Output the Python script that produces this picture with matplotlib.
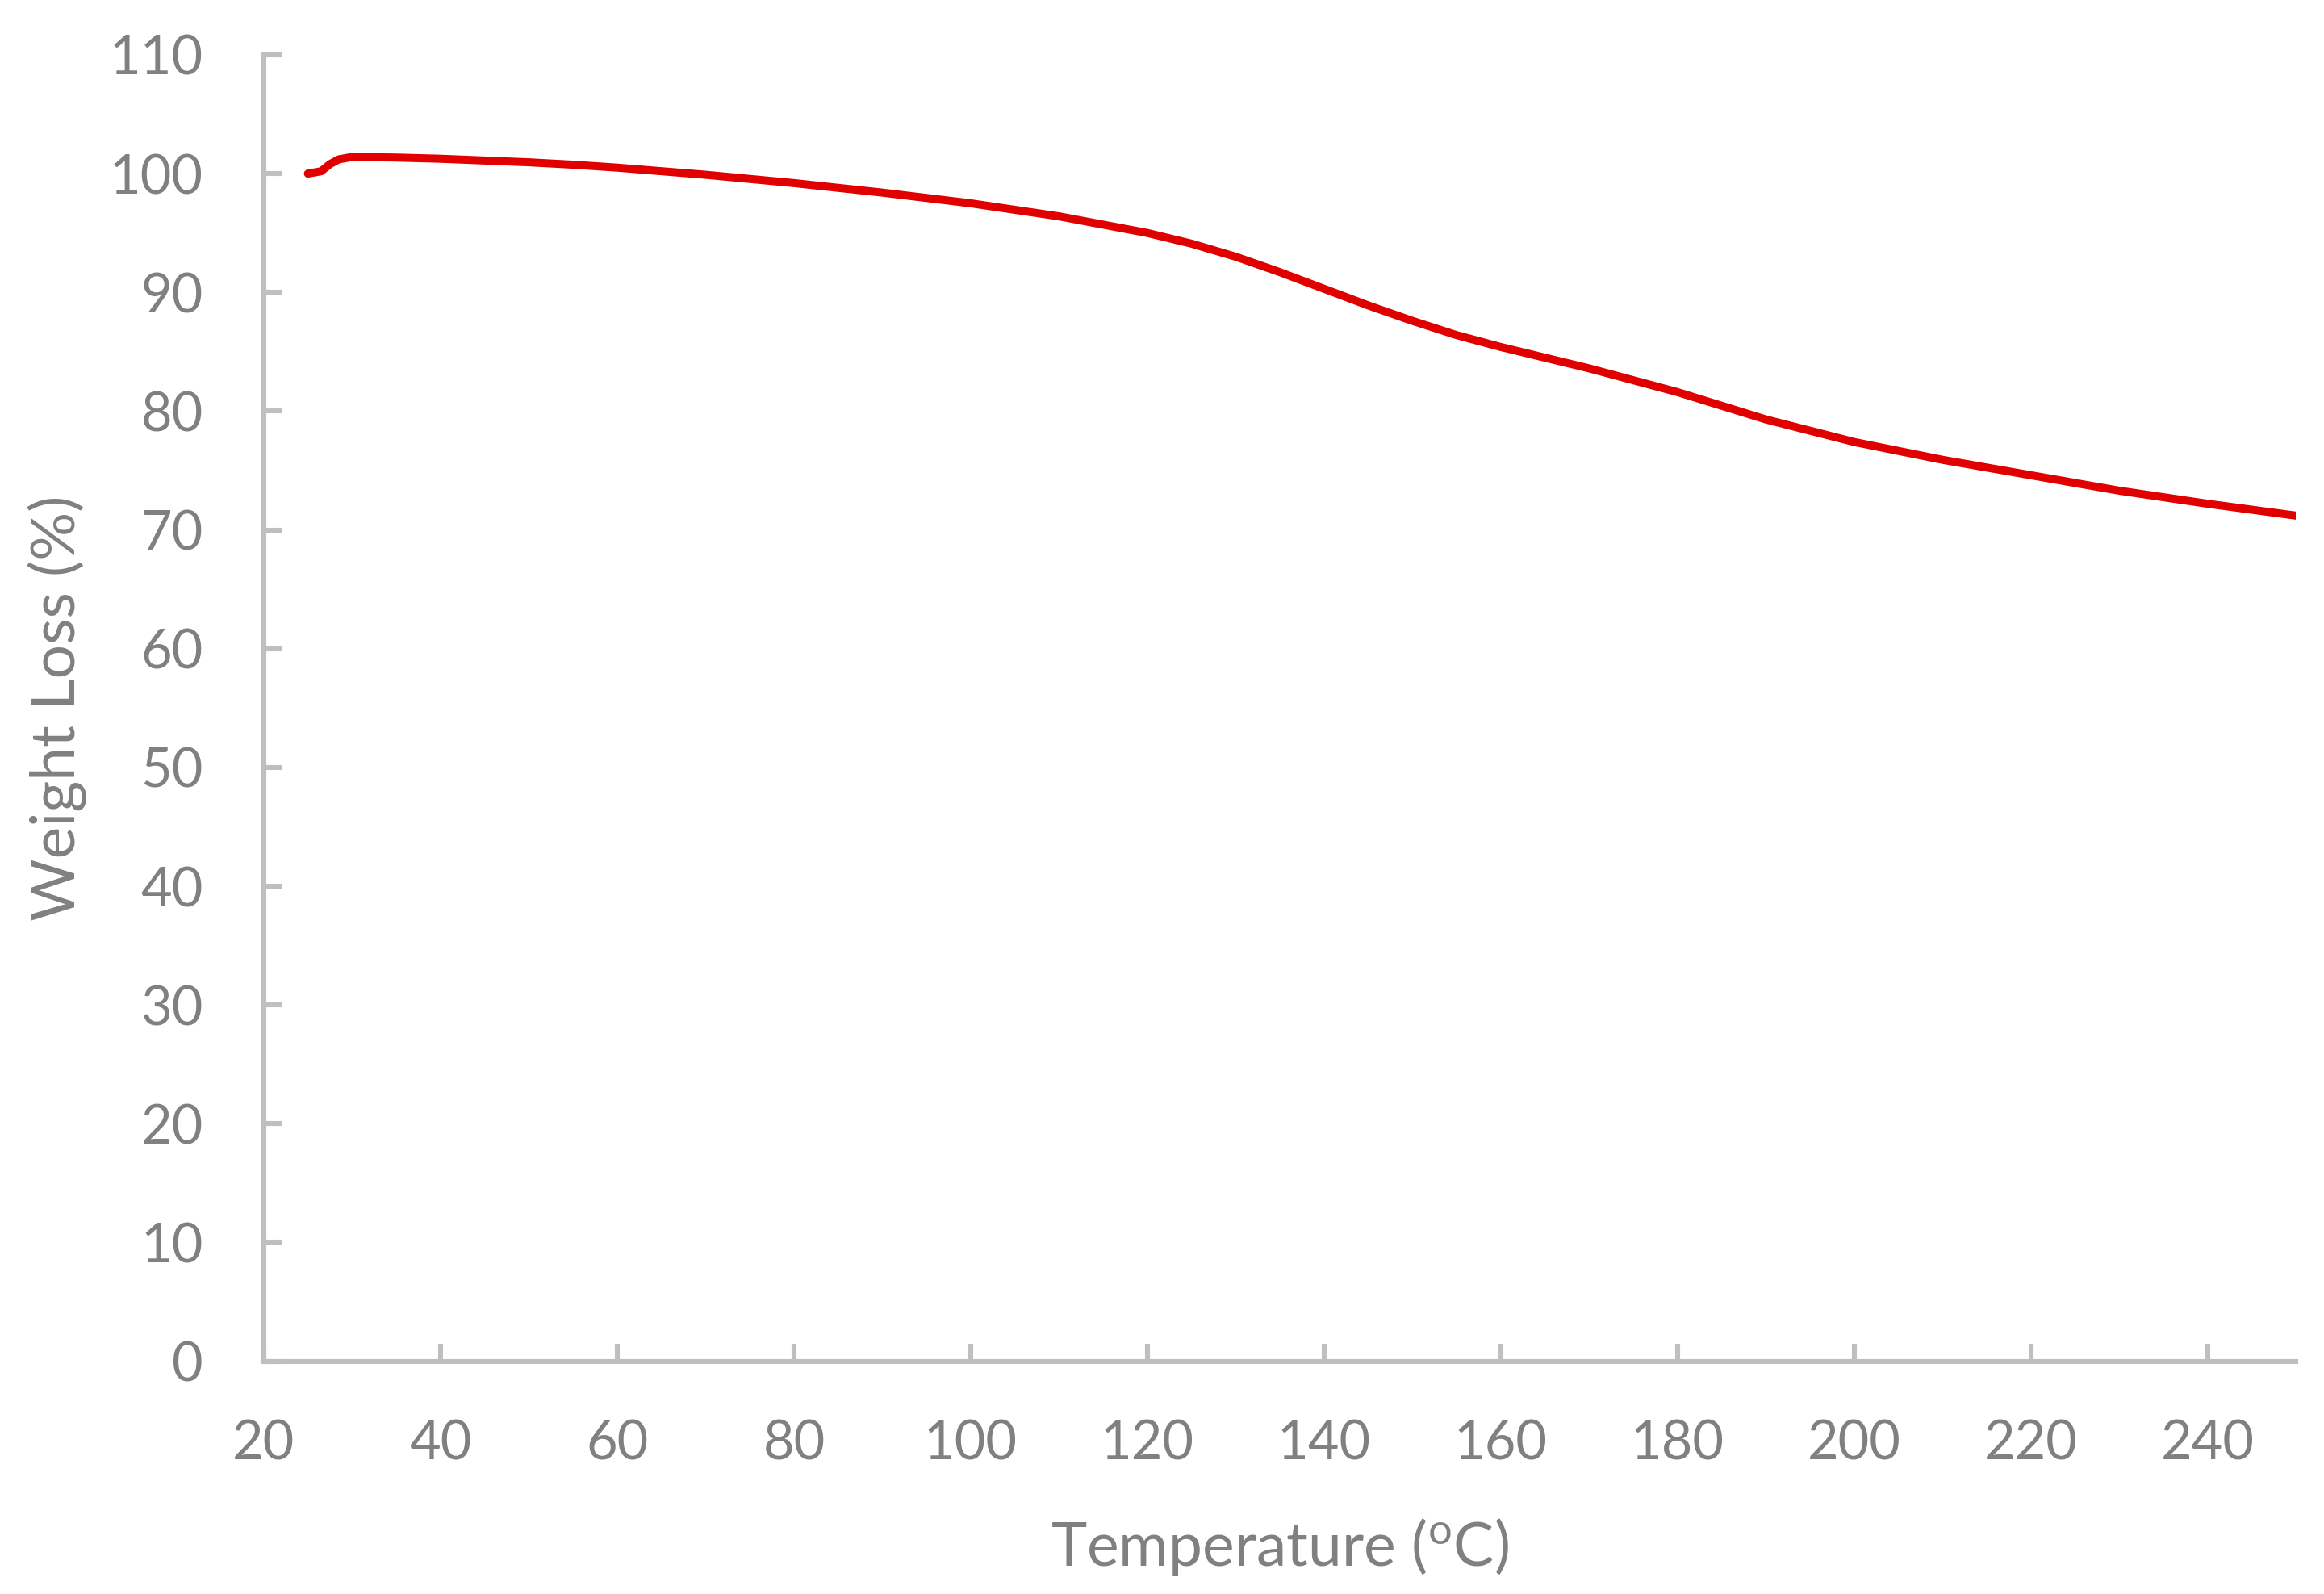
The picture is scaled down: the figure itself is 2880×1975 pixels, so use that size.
#!/usr/bin/env python3
# TGA curve: weight loss vs temperature
import numpy as np
from matplotlib import pyplot as plt
import matplotlib
matplotlib.use('Agg')

plt.rcParams['font.family'] = ['Lato', 'DejaVu Sans']
plt.rcParams['mathtext.fontset'] = 'custom'
plt.rcParams['mathtext.rm'] = 'Lato'
plt.rcParams['mathtext.default'] = 'regular'

# values
temperature = [25, 26.5, 27.5, 28.5, 30, 35, 40, 45, 50, 55, 60, 70, 80, 90, 100,
               110, 120, 125, 130, 135, 140, 145, 150, 155, 160, 170, 180, 190,
               200, 210, 220, 230, 240, 250]
weight = [100.0, 100.2, 100.8, 101.2, 101.4, 101.35, 101.25, 101.1, 100.95, 100.75,
          100.5, 99.9, 99.2, 98.4, 97.5, 96.4, 95.0, 94.1, 93.0, 91.7, 90.3, 88.9,
          87.6, 86.4, 85.4, 83.6, 81.6, 79.3, 77.4, 75.9, 74.6, 73.3, 72.2, 71.2]

text_col = '#808080'
axis_col = '#BFBFBF'

fig = plt.figure(figsize=(14.4, 9.875), dpi=200)
ax = fig.add_axes([0.1135, 0.146, 0.8745, 0.8196])

ax.plot(temperature, weight, color='#E00000', lw=3.6, solid_capstyle='round')

ax.set_xlim(20, 250)
ax.set_ylim(0, 110)
ax.set_xticks(np.arange(20, 241, 20))
ax.set_yticks(np.arange(0, 111, 10))

for s in ['top', 'right']:
    ax.spines[s].set_visible(False)
for s in ['left', 'bottom']:
    ax.spines[s].set_color(axis_col)
    ax.spines[s].set_linewidth(2.2)

ax.tick_params(axis='both', direction='in', length=8, width=2.2, color=axis_col,
               labelcolor=text_col, labelsize=24)
ax.tick_params(axis='y', pad=27)
ax.tick_params(axis='x', pad=26)

ax.set_xlabel('Temperature ($^{o}$C)', fontsize=27, color=text_col, labelpad=21)
ax.set_ylabel('Weight Loss (%)', fontsize=27, color=text_col, labelpad=10)

fig.savefig('out.png', dpi=200)
